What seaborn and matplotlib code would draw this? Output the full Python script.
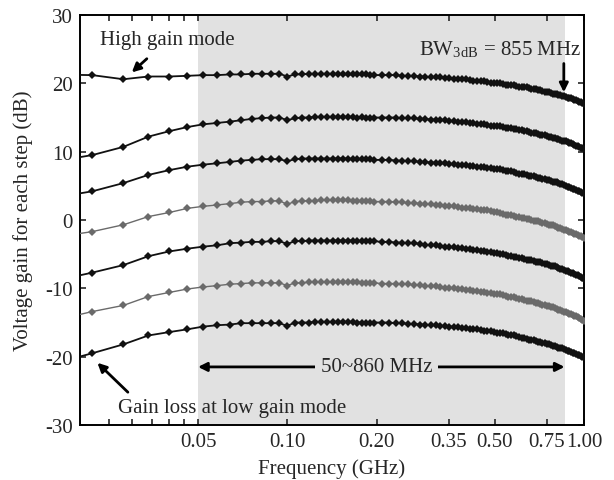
import numpy as np
import matplotlib
matplotlib.use("Agg")
import matplotlib.pyplot as plt
import seaborn as sns

sns.set_style("ticks")
plt.rcParams['font.family'] = ['Liberation Serif', 'DejaVu Serif']
plt.rcParams['mathtext.fontset'] = 'stix'
plt.rcParams['axes.unicode_minus'] = False

# sweep frequencies (GHz)
freq_ghz = [0.016, 0.022, 0.028, 0.034, 0.040, 0.046, 0.052, 0.058, 0.064, 0.070,
            0.076, 0.082, 0.088, 0.094, 0.100,
            0.106, 0.112, 0.118, 0.124, 0.130, 0.136, 0.142, 0.148, 0.154, 0.160,
            0.166, 0.172, 0.178, 0.184, 0.190, 0.196,
            0.208, 0.220, 0.232, 0.244, 0.256, 0.268, 0.280, 0.292, 0.304, 0.316,
            0.328, 0.340, 0.352, 0.364, 0.376, 0.388, 0.400, 0.412, 0.424, 0.436,
            0.448, 0.460, 0.472, 0.484, 0.496,
            0.508, 0.520, 0.532, 0.544, 0.556, 0.568, 0.580, 0.592, 0.604, 0.616,
            0.628, 0.640, 0.652, 0.664, 0.676, 0.688, 0.700, 0.712, 0.724, 0.736,
            0.748, 0.760, 0.772, 0.784, 0.796, 0.808, 0.820, 0.832, 0.844, 0.856,
            0.868, 0.880, 0.892, 0.904, 0.916, 0.928, 0.940, 0.952, 0.964, 0.976,
            0.988, 1.000]

# gain per step (dB), top (high gain mode) to bottom
gain_1 = [21.3, 21.2, 20.6, 21.0, 21.0, 21.1, 21.2, 21.2, 21.3, 21.3, 21.4, 21.4, 21.4, 21.4, 21.0,
          21.3, 21.3, 21.4, 21.4, 21.4, 21.4, 21.4, 21.4, 21.3, 21.3, 21.3, 21.3, 21.3, 21.3, 21.2, 21.2,
          21.2, 21.2, 21.2, 21.1, 21.1, 21.1, 21.0, 21.0, 20.9, 20.9, 20.9, 20.8, 20.8, 20.7, 20.7,
          20.6, 20.6, 20.5, 20.4, 20.4, 20.3, 20.3, 20.2, 20.1, 20.1,
          20.0, 20.0, 19.9, 19.8, 19.8, 19.7, 19.7, 19.6, 19.5, 19.5, 19.4, 19.4, 19.3, 19.2, 19.2,
          19.1, 19.0, 19.0, 18.9, 18.8, 18.8, 18.7, 18.6, 18.5, 18.5, 18.4, 18.3, 18.3, 18.2, 18.1,
          18.0, 17.9, 17.9, 17.8, 17.7, 17.6, 17.5, 17.4, 17.3, 17.2, 17.1, 17.0]
gain_2 = [8.5, 9.5, 10.7, 12.2, 13.0, 13.6, 14.0, 14.2, 14.4, 14.6, 14.8, 14.9, 15.0, 15.0, 14.6,
          14.9, 15.0, 15.0, 15.1, 15.1, 15.1, 15.1, 15.1, 15.1, 15.1, 15.1, 15.0, 15.1, 15.0, 15.0, 15.0,
          15.0, 15.0, 15.0, 14.9, 14.9, 14.9, 14.8, 14.8, 14.7, 14.7, 14.6, 14.6, 14.5, 14.5, 14.4,
          14.4, 14.3, 14.2, 14.2, 14.1, 14.0, 14.0, 13.9, 13.8, 13.8,
          13.7, 13.7, 13.6, 13.5, 13.5, 13.4, 13.3, 13.3, 13.2, 13.1, 13.0, 13.0, 12.9, 12.8, 12.7,
          12.7, 12.6, 12.5, 12.4, 12.4, 12.3, 12.2, 12.1, 12.0, 12.0, 11.9, 11.8, 11.7, 11.6, 11.5,
          11.5, 11.4, 11.3, 11.2, 11.1, 11.0, 10.9, 10.8, 10.7, 10.6, 10.5, 10.4]
gain_3 = [3.2, 4.2, 5.4, 6.6, 7.3, 7.8, 8.1, 8.3, 8.5, 8.7, 8.8, 8.9, 8.9, 8.9, 8.6,
          8.9, 9.0, 9.0, 9.0, 9.0, 9.0, 9.0, 9.0, 9.0, 9.0, 8.9, 8.9, 8.9, 8.9, 8.9, 8.8,
          8.8, 8.8, 8.7, 8.7, 8.6, 8.6, 8.5, 8.5, 8.4, 8.4, 8.3, 8.3, 8.2, 8.2, 8.1,
          8.1, 8.0, 7.9, 7.9, 7.8, 7.8, 7.7, 7.6, 7.6, 7.5,
          7.4, 7.4, 7.3, 7.2, 7.1, 7.1, 7.0, 6.9, 6.8, 6.8, 6.7, 6.6, 6.5, 6.4, 6.4,
          6.3, 6.2, 6.1, 6.0, 6.0, 5.9, 5.8, 5.7, 5.6, 5.5, 5.5, 5.4, 5.3, 5.2, 5.1,
          5.0, 4.9, 4.8, 4.7, 4.6, 4.5, 4.4, 4.3, 4.2, 4.1, 4.0, 3.9]
gain_4 = [-2.6, -1.7, -0.7, 0.5, 1.1, 1.7, 2.0, 2.2, 2.4, 2.6, 2.7, 2.7, 2.8, 2.8, 2.3,
          2.7, 2.8, 2.8, 2.8, 2.9, 2.9, 2.9, 2.9, 2.9, 2.9, 2.8, 2.8, 2.8, 2.8, 2.8, 2.7,
          2.7, 2.7, 2.6, 2.6, 2.5, 2.5, 2.4, 2.3, 2.3, 2.2, 2.2, 2.1, 2.0, 2.0, 1.9,
          1.8, 1.8, 1.7, 1.6, 1.6, 1.5, 1.4, 1.4, 1.3, 1.2,
          1.1, 1.0, 0.9, 0.8, 0.8, 0.7, 0.6, 0.5, 0.4, 0.3, 0.3, 0.2, 0.1, 0.0, -0.1,
          -0.2, -0.2, -0.3, -0.4, -0.5, -0.6, -0.7, -0.8, -0.8, -0.9, -1.0, -1.1, -1.2, -1.3, -1.4,
          -1.5, -1.6, -1.7, -1.8, -1.9, -2.0, -2.1, -2.2, -2.3, -2.4, -2.5, -2.6]
gain_5 = [-9.0, -7.7, -6.6, -5.3, -4.6, -4.2, -3.9, -3.7, -3.4, -3.3, -3.2, -3.2, -3.1, -3.1, -3.5,
          -3.1, -3.1, -3.0, -3.0, -3.0, -3.0, -3.0, -3.0, -3.0, -3.0, -3.0, -3.1, -3.1, -3.1, -3.1, -3.1,
          -3.2, -3.2, -3.3, -3.3, -3.4, -3.4, -3.5, -3.6, -3.7, -3.7, -3.8, -3.9, -3.9, -4.0, -4.1,
          -4.1, -4.2, -4.3, -4.4, -4.4, -4.5, -4.6, -4.7, -4.7, -4.8,
          -4.9, -5.0, -5.0, -5.1, -5.2, -5.3, -5.4, -5.4, -5.5, -5.6, -5.7, -5.8, -5.8, -5.9, -6.0,
          -6.1, -6.2, -6.2, -6.3, -6.4, -6.5, -6.6, -6.7, -6.7, -6.8, -6.9, -7.0, -7.1, -7.2, -7.3,
          -7.4, -7.5, -7.6, -7.7, -7.8, -7.9, -8.0, -8.1, -8.2, -8.4, -8.5, -8.7]
gain_6 = [-14.8, -13.4, -12.5, -11.2, -10.6, -10.1, -9.8, -9.6, -9.4, -9.3, -9.2, -9.2, -9.2, -9.2, -9.6,
          -9.2, -9.2, -9.1, -9.1, -9.1, -9.1, -9.1, -9.1, -9.1, -9.1, -9.1, -9.1, -9.2, -9.2, -9.2, -9.2,
          -9.3, -9.3, -9.3, -9.4, -9.4, -9.5, -9.5, -9.6, -9.7, -9.7, -9.8, -9.9, -9.9, -10.0, -10.1,
          -10.1, -10.2, -10.3, -10.4, -10.4, -10.5, -10.6, -10.7, -10.7, -10.8,
          -10.9, -10.9, -11.0, -11.1, -11.2, -11.2, -11.3, -11.4, -11.5, -11.6, -11.7, -11.8, -11.8, -11.9, -12.0,
          -12.1, -12.2, -12.3, -12.4, -12.5, -12.6, -12.6, -12.7, -12.8, -12.9, -13.0, -13.1, -13.2, -13.3, -13.4,
          -13.5, -13.6, -13.7, -13.8, -13.9, -14.0, -14.1, -14.2, -14.3, -14.5, -14.6, -14.8]
gain_7 = [-21.1, -19.5, -18.2, -16.9, -16.4, -16.0, -15.6, -15.4, -15.3, -15.1, -15.1, -15.1, -15.1, -15.1, -15.5,
          -15.0, -15.0, -15.0, -14.9, -14.9, -14.9, -14.9, -14.9, -14.9, -14.9, -14.9, -15.0, -15.0, -15.0, -15.0, -15.0,
          -15.0, -15.0, -15.1, -15.1, -15.2, -15.2, -15.3, -15.3, -15.4, -15.4, -15.5, -15.5, -15.6, -15.6, -15.7,
          -15.8, -15.8, -15.9, -16.0, -16.0, -16.1, -16.2, -16.2, -16.3, -16.4,
          -16.5, -16.5, -16.6, -16.7, -16.8, -16.9, -16.9, -17.0, -17.1, -17.2, -17.3, -17.4, -17.5, -17.5, -17.6,
          -17.7, -17.8, -17.9, -18.0, -18.0, -18.1, -18.2, -18.3, -18.4, -18.5, -18.6, -18.7, -18.8, -18.8, -18.9,
          -19.0, -19.1, -19.2, -19.3, -19.4, -19.5, -19.6, -19.7, -19.8, -19.9, -20.0, -20.1]

series = [gain_1, gain_2, gain_3, gain_4, gain_5, gain_6, gain_7]
colors = ['#111111', '#111111', '#111111', '#6a6a6a', '#111111', '#6a6a6a', '#111111']
widths = [1.3, 1.3, 1.3, 1.0, 1.3, 1.0, 1.3]

x_ticks = [0.05, 0.10, 0.20, 0.35, 0.50, 0.75, 1.00]
x_minor = [0.025, 0.03, 0.035, 0.04, 0.045]
y_ticks = [-30, -20, -10, 0, 10, 20, 30]

fig = plt.figure(figsize=(6.14, 4.81), dpi=100)
ax = fig.add_axes([80/614, 1 - 426/481, 504/614, 410/481])

# 50~860 MHz band
ax.axvspan(0.05, 0.86, color='#e1e1e1', lw=0, zorder=0)

for g, c, w in zip(series, colors, widths):
    sns.lineplot(x=freq_ghz, y=g, ax=ax, color=c, lw=w, marker='D', markersize=3.6,
                 markeredgewidth=0, estimator=None, sort=False, zorder=3)

ax.set_xscale('log')
ax.set_xlim(0.02, 1.0)
ax.set_ylim(-30, 30)
ax.set_xticks(x_ticks)
ax.set_xticklabels(['%.2f' % t for t in x_ticks])
ax.set_xticks(x_minor, minor=True)
ax.set_xticklabels([], minor=True)
ax.set_yticks(y_ticks)
ax.tick_params(which='both', direction='in', top=True, right=True, length=4.5, width=1.2,
               labelsize=15, pad=5)
for s in ax.spines.values():
    s.set_linewidth(1.4)
    s.set_color('black')

ax.set_xlabel('Frequency (GHz)', fontsize=15, labelpad=5)
fig.text(23/614, 1 - 221/481, 'Voltage gain for each step (dB)', rotation=90,
         ha='center', va='center', fontsize=15)

arrow = dict(arrowstyle='-|>', color='black', lw=2.0, mutation_scale=13, shrinkA=0, shrinkB=0)

ax.text(0.0395, 26.4, 'High gain mode', ha='center', va='center', fontsize=15)
ax.annotate('', xy=(0.0299, 21.6), xytext=(0.0336, 23.6), arrowprops=arrow)

ax.text(0.52, 25.0, r'BW$_{\mathregular{3dB}}$ = 855 MHz', ha='center', va='center', fontsize=15)
ax.annotate('', xy=(0.855, 18.7), xytext=(0.855, 22.9), arrowprops=arrow)

ax.annotate('', xy=(0.05, -21.5), xytext=(0.86, -21.5),
            arrowprops=dict(arrowstyle='<|-|>', color='black', lw=2.0, mutation_scale=13,
                            shrinkA=0, shrinkB=0))
ax.text(0.20, -21.5, '50~860 MHz', ha='center', va='center', fontsize=15,
        bbox=dict(facecolor='#e1e1e1', edgecolor='none', pad=4), zorder=5)

ax.text(0.065, -27.5, 'Gain loss at low gain mode', ha='center', va='center', fontsize=15)
ax.annotate('', xy=(0.0229, -20.9), xytext=(0.029, -25.2), arrowprops=arrow)

fig.savefig('out.png', dpi=100)
